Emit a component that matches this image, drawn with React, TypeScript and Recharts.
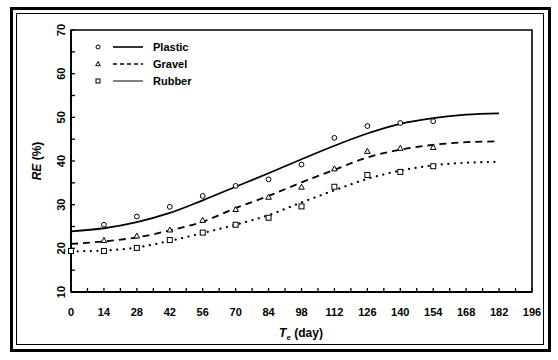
import React from "react";
import { ComposedChart, Line, Scatter, XAxis, YAxis, ReferenceArea } from "recharts";

// fitted curves, every 14 days
const fitDays = [0, 14, 28, 42, 56, 70, 84, 98, 112, 126, 140, 154, 168, 182];
const plasticFit = [23.9, 24.6, 26.0, 28.1, 31.0, 34.1, 37.2, 40.4, 43.5, 46.3, 48.5, 49.8, 50.6, 50.9];
const gravelFit = [21.0, 21.6, 22.5, 24.1, 26.1, 29.2, 32.0, 35.1, 38.0, 40.8, 42.6, 43.7, 44.3, 44.5];
const rubberFit = [19.3, 19.5, 20.2, 21.7, 23.5, 25.4, 27.6, 30.5, 33.3, 35.9, 37.8, 39.0, 39.6, 39.8];

// measured points
const obsDays = [14, 28, 42, 56, 70, 84, 98, 112, 126, 140, 154];
const plasticObs = [25.4, 27.3, 29.5, 32.0, 34.3, 35.8, 39.2, 45.3, 48.0, 48.7, 49.1];
const gravelObs = [21.8, 22.8, 24.2, 26.4, 28.9, 31.7, 34.0, 38.2, 42.2, 42.9, 43.1];
const rubberObsDays = [0, 14, 28, 42, 56, 70, 84, 98, 112, 126, 140, 154];
const rubberObs = [19.4, 19.4, 20.1, 21.9, 23.6, 25.4, 27.0, 29.6, 34.1, 36.8, 37.5, 38.8];

const xTicks = [0, 7, 14, 21, 28, 35, 42, 49, 56, 63, 70, 77, 84, 91, 98, 105, 112, 119, 126, 133, 140, 147, 154, 161, 168, 175, 182, 189, 196];
const yTicks = [10, 15, 20, 25, 30, 35, 40, 45, 50, 55, 60, 65, 70];
const seriesNames = ["Plastic", "Gravel", "Rubber"];

const toPoints = (xs: number[], ys: number[]) => xs.map((x, i) => ({ x, y: ys[i] }));

const FONT = "'Liberation Sans', Arial, sans-serif";

function XTick({ x, y, payload }: any) {
  const v = payload.value;
  return (
    <g>
      <line x1={x} y1={y} x2={x} y2={y - 4} stroke="#000" strokeWidth={1.3} />
      {v % 14 === 0 && (
        <text x={x} y={y + 24} textAnchor="middle" fontSize={11} fontWeight="bold" fontFamily={FONT} fill="#000">
          {v}
        </text>
      )}
    </g>
  );
}

function YTick({ x, y, payload }: any) {
  const v = payload.value;
  const tx = x - 10;
  return (
    <g>
      <line x1={x} y1={y} x2={x + 4} y2={y} stroke="#000" strokeWidth={1.3} />
      {v % 10 === 0 && (
        <text
          x={tx}
          y={y}
          transform={`rotate(-90 ${tx} ${y})`}
          textAnchor="middle"
          dy={4}
          fontSize={11}
          fontWeight="bold"
          fontFamily={FONT}
          fill="#000"
        >
          {v}
        </text>
      )}
    </g>
  );
}

const circle = (p: any) => <circle cx={p.cx} cy={p.cy} r={2.4} fill="#fff" stroke="#000" strokeWidth={1} />;
const triangle = (p: any) => (
  <path d={`M${p.cx},${p.cy - 3} L${p.cx + 2.8},${p.cy + 2} L${p.cx - 2.8},${p.cy + 2} Z`} fill="#fff" stroke="#000" strokeWidth={1} />
);
const square = (p: any) => <rect x={p.cx - 2.5} y={p.cy - 2.5} width={5} height={5} fill="#fff" stroke="#000" strokeWidth={1} />;

function LegendBox() {
  const rows = [
    { sym: (cy: number) => <circle cx={8} cy={cy} r={2} fill="#fff" stroke="#000" />, dash: undefined, w: 1.6 },
    { sym: (cy: number) => <path d={`M8,${cy - 2.5} L10.3,${cy + 1.7} L5.7,${cy + 1.7} Z`} fill="#fff" stroke="#000" />, dash: "4 3", w: 1.6 },
    { sym: (cy: number) => <rect x={6} y={cy - 2} width={4} height={4} fill="#fff" stroke="#000" />, dash: undefined, w: 1 },
  ];
  return (
    <svg width={110} height={56} style={{ display: "block" }}>
      {rows.map((r, i) => {
        const cy = 8 + i * 17;
        return (
          <g key={i}>
            {r.sym(cy)}
            <line x1={23} y1={cy} x2={53} y2={cy} stroke="#000" strokeWidth={r.w} strokeDasharray={r.dash} />
            <text x={63} y={cy + 4} fontSize={11} fontWeight="bold" fontFamily={FONT} fill="#000">
              {seriesNames[i]}
            </text>
          </g>
        );
      })}
    </svg>
  );
}

export default function App() {
  return (
    <div style={{ position: "absolute", left: 0, top: 0, width: 558, height: 360, background: "#fff" }}>
      <div style={{ position: "absolute", left: 10, top: 7, width: 535, height: 339, border: "3px solid #000" }} />
      <div style={{ position: "absolute", left: 16, top: 13, width: 526, height: 330, border: "1.5px solid #000" }} />
      <div style={{ position: "absolute", left: 0, top: 0 }}>
        <ComposedChart width={558} height={360} margin={{ top: 30, right: 26, bottom: 38, left: 31 }}>
          <XAxis
            dataKey="x"
            type="number"
            domain={[0, 196]}
            ticks={xTicks}
            interval={0}
            height={30}
            tickSize={0}
            tickMargin={0}
            tickLine={false}
            axisLine={{ stroke: "#000", strokeWidth: 1.8 }}
            tick={<XTick />}
            label={{
              content: () => (
                <text x={301} y={337} textAnchor="middle" fontSize={12} fontWeight="bold" fontFamily={FONT} fill="#000">
                  <tspan fontStyle="italic">T</tspan>
                  <tspan fontSize={8} dy={3}>e</tspan>
                  <tspan dy={-3}> (day)</tspan>
                </text>
              ),
            }}
          />
          <YAxis
            dataKey="y"
            type="number"
            domain={[10, 70]}
            ticks={yTicks}
            interval={0}
            width={40}
            tickSize={0}
            tickMargin={0}
            tickLine={false}
            axisLine={{ stroke: "#000", strokeWidth: 1.8 }}
            tick={<YTick />}
            label={{
              content: () => (
                <text
                  x={41}
                  y={161}
                  transform="rotate(-90 41 161)"
                  textAnchor="middle"
                  fontSize={12}
                  fontWeight="bold"
                  fontFamily={FONT}
                  fill="#000"
                >
                  <tspan fontStyle="italic">RE</tspan>
                  <tspan> (%)</tspan>
                </text>
              ),
            }}
          />
          <ReferenceArea x1={0} x2={196} y1={10} y2={70} fill="none" stroke="#000" strokeWidth={1.6} ifOverflow="visible" />
          <Line
            data={toPoints(fitDays, plasticFit)}
            dataKey="y"
            type="monotone"
            stroke="#000"
            strokeWidth={1.8}
            dot={false}
            isAnimationActive={false}
          />
          <Line
            data={toPoints(fitDays, gravelFit)}
            dataKey="y"
            type="monotone"
            stroke="#000"
            strokeWidth={1.8}
            strokeDasharray="7 5"
            dot={false}
            isAnimationActive={false}
          />
          <Line
            data={toPoints(fitDays, rubberFit)}
            dataKey="y"
            type="monotone"
            stroke="#000"
            strokeWidth={2.2}
            strokeDasharray="0.1 6.5"
            strokeLinecap="round"
            dot={false}
            isAnimationActive={false}
          />
          <Scatter data={toPoints(obsDays, plasticObs)} shape={circle} isAnimationActive={false} />
          <Scatter data={toPoints(obsDays, gravelObs)} shape={triangle} isAnimationActive={false} />
          <Scatter data={toPoints(rubberObsDays, rubberObs)} shape={square} isAnimationActive={false} />
        </ComposedChart>
      </div>
      <div style={{ position: "absolute", left: 90, top: 39 }}>
        <LegendBox />
      </div>
    </div>
  );
}
